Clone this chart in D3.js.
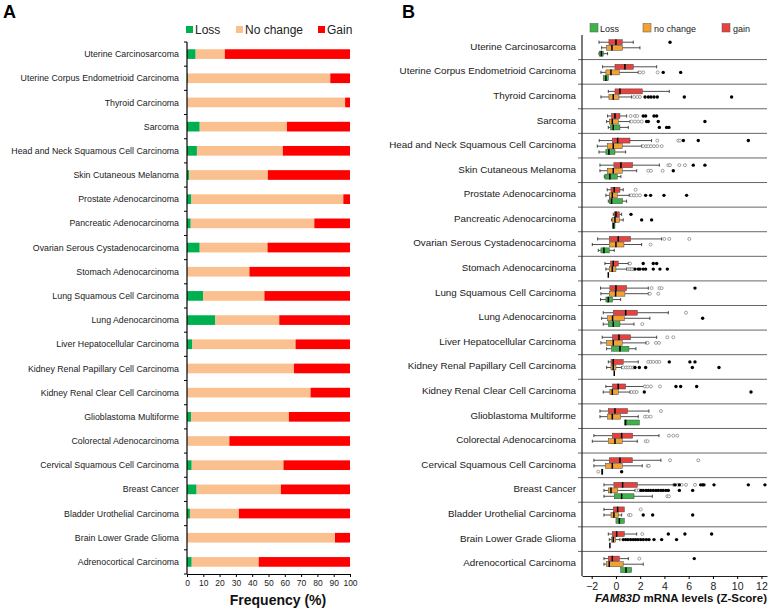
<!DOCTYPE html>
<html><head><meta charset="utf-8">
<script src="https://cdn.jsdelivr.net/npm/d3@7"></script>
<style>body{margin:0;background:#fff}svg{display:block;font-family:"Liberation Sans",Arial,sans-serif}</style>
</head><body><svg id="c" width="774" height="611"></svg>
<script>
const categories = ["Uterine Carcinosarcoma","Uterine Corpus Endometrioid Carcinoma","Thyroid Carcinoma","Sarcoma","Head and Neck Squamous Cell Carcinoma","Skin Cutaneous Melanoma","Prostate Adenocarcinoma","Pancreatic Adenocarcinoma","Ovarian Serous Cystadenocarcinoma","Stomach Adenocarcinoma","Lung Squamous Cell Carcinoma","Lung Adenocarcinoma","Liver Hepatocellular Carcinoma","Kidney Renal Papillary Cell Carcinoma","Kidney Renal Clear Cell Carcinoma","Glioblastoma Multiforme","Colorectal Adenocarcinoma","Cervical Squamous Cell Carcinoma","Breast Cancer","Bladder Urothelial Carcinoma","Brain Lower Grade Glioma","Adrenocortical Carcinoma"];

// Panel A: frequency (%)
const lossPct     = [5.3,0.5,0,7.8,6.1,1.4,2.7,2.3,7.8,0,10,17.4,3.3,0,0,2.5,0,2.9,5.9,1.8,0,2.9];
const noChangePct = [17.9,87.4,97,53.5,52.7,48.2,93.2,75.8,41.6,38.3,37.5,39.2,63.3,65.6,75.8,60,26,56.3,51.7,30,90.8,41.1];
const gainPct     = [76.8,12.1,3,38.7,41.2,50.4,4.1,21.9,50.6,61.7,52.5,43.4,33.4,34.4,24.2,37.5,74,40.8,42.4,68.2,9.2,56];
const freqTicks = [0,10,20,30,40,50,60,70,80,90,100];

// Panel B: box stats [low whisker, q1, median, q3, high whisker]
const gainStats = [[-1.4,-0.58,0,0.52,1.43],[-1.1,-0.08,0.74,1.43,3.36],[-0.63,-0.08,0.33,2.17,4.4],[-0.69,-0.36,-0.08,0.33,0.88],[-1.38,-0.3,0.14,1.16,2.94],[-1.32,-0.17,0.41,1.38,3.58],[-0.72,-0.41,-0.14,0.33,0.6],[-0.22,-0.14,0,0.28,0.47],[-1.51,-0.55,0.19,1.21,3.77],[-0.91,-0.44,-0.22,0.19,1.02],[-1.27,-0.5,0,0.88,2.67],[-1.05,-0.22,0.8,1.76,4.32],[-1.13,-0.28,0.25,1.21,3.36],[-0.63,-0.41,-0.22,0.6,1.84],[-0.83,-0.28,0.19,0.8,2.34],[-1.32,-0.63,-0.08,0.96,2.72],[-1.82,-0.3,0.47,1.38,3.55],[-1.82,-0.55,0.33,1.35,3.71],[-0.99,-0.17,0.55,1.76,4.73],[-0.99,-0.22,0.14,0.69,0.69],[-0.63,-0.3,0.06,0.69,1.71],[-0.99,-0.63,-0.3,0.28,1.02]];
const gainMild = [[],[],[],[1.21,1.57,1.76],[3.41,5.14,5.28],[4.32,4.46,5.23,5.69],[1.62],[],[3.99,4.4,6.05],[1.16],[2.94,3.58,3.77],[5.78],[4.24,4.73],[2.67,2.86,3.08,3.36,3.58],[2.39,2.61,2.89,3.63],[3.71],[4.37,4.73,5.06],[4.46,6.79],[5.09,5.42,5.78,6.52],[2.04],[2.17],[1.93]];
const gainExtreme = [[4.46],[],[],[2.25,2.45,3.14,3.36],[5.56,6.79,10.92],[6.38,7.34],[],[1.24],[],[2.25,3.08,3.36],[6.52],[],[],[4.4,6.1,6.52],[4.95,5.34,6.66],[],[],[],[4.87,5.23,6.99,7.15,7.26,8.09,10.92,12.29],[],[4.32,5.69,7.89],[6.46]];

const noChangeStats = [[-1.18,-0.77,-0.33,0.55,1.98],[-1.24,-0.83,-0.41,0.28,1.84],[-1.24,-0.58,-0.22,0.25,1.29],[-0.77,-0.55,-0.3,0.19,1.16],[-1.54,-0.72,-0.22,0.52,2.12],[-1.32,-0.72,-0.22,0.52,1.71],[-0.83,-0.55,-0.3,0.11,1.1],[-0.36,-0.28,-0.08,0.28,0.6],[-1.95,-0.55,0,0.66,2.12],[-0.83,-0.55,-0.3,0,0.88],[-1.24,-0.55,-0.03,0.74,2.67],[-1.18,-0.69,-0.28,0.69,2.8],[-1.24,-0.77,-0.22,0.52,2.48],[-0.77,-0.41,-0.22,0,0.47],[-1.05,-0.5,-0.3,0.19,1.16],[-1.32,-0.69,-0.3,0.39,1.84],[-1.95,-0.63,-0.08,0.52,1.76],[-1.82,-0.85,-0.3,0.52,2.17],[-0.99,-0.63,-0.41,0.14,1.57],[-0.99,-0.41,-0.17,0.19,0.47],[-0.55,-0.36,-0.22,-0.03,0.33],[-0.99,-0.77,-0.55,0.6,2.25]];
const noChangeMild = [[],[1.98,2.25,3.44],[1.5,1.76,1.98],[1.29,1.57,1.84,2.12],[2.25,2.48,2.67,2.89,3.14,3.41,3.77],[2.67,2.89,3.85],[1.29,1.49,1.71,1.98],[],[2.86],[1.02,1.16,1.29,1.43],[2.8,3.49],[],[2.61,3.3,3.55],[0.6,0.83,1.02,1.21,1.43],[1.29,1.51,1.71],[2.39,2.59,2.86],[2.45,2.61],[2.61,2.72],[1.71,1.9],[1.07,1.21],[],[]];
const noChangeExtreme = [[],[3.9,5.34],[2.4,2.67,2.89,3.14,3.41,5.64,9.54],[2.53,2.67,3.49,7.34],[],[4.73],[2.45,2.86,3.96,5.83],[2.12,2.94],[],[1.57,1.84,1.98,2.25,2.45,3.08,3.63,4.24],[],[7.15],[],[1.57,1.93,2.45,6.3,8.5],[2.34,11.14],[],[],[],[2.06,2.25,2.48,2.67,2.86,3.08,3.3,3.49,3.71,3.9,4.13,4.32,5.23,6.33],[2.25,3.03,6.33],[0.6,0.8,0.99,1.21,1.43,1.62,1.82,2.04,2.26,2.51,2.73,3.14,3.77,5.0],[]];

const lossStats = [[-1.4,-1.37,-1.2,-1.05,-0.69],[-1.05,-1.05,-0.83,-0.63,-0.63],null,[-0.63,-0.44,-0.22,0.33,1.02],[-1.4,-0.83,-0.58,-0.08,0.8],[-0.96,-0.91,-0.5,0.11,0.41],[-0.63,-0.55,-0.36,0.55,0.88],[-0.3,-0.3,-0.2,-0.08,-0.08],[-1.46,-1.24,-0.99,-0.55,-0.14],[-0.63,-0.63,-0.63,-0.63,-0.63],[-1.27,-0.83,-0.63,-0.28,0.39],[-1.05,-0.63,-0.22,0.33,1.49],[-0.77,-0.36,0.33,1.07,1.65],[-0.14,-0.14,-0.14,-0.14,-0.14],null,[0.69,0.69,0.8,1.93,1.93],null,[-1.18,-1.18,-1.13,-1.08,-1.08],[-0.99,-0.14,0.47,1.49,3.0],[0,0,0.28,0.69,0.69],[-0.5,-0.5,-0.5,-0.5,-0.5],[0.39,0.39,0.83,1.29,1.29]];
const lossMild = [[],[],[],[],[],[],[],[],[],[],[],[2.17],[],[],[],[],[],[-1.46],[4.24,4.37],[],[],[]];
const lossExtreme = [[],[],[],[3.58,4.18,4.37],[],[],[],[],[],[],[],[],[],[],[],[],[],[0.47],[],[],[],[]];
const zTicks = [-2,0,2,4,6,8,10,12];

const svg = d3.select("#c");

// ---------- Panel A ----------
const colA = {loss:"#00B050", nc:"#FAC08F", gain:"#FF0000"};
const xA = d3.scaleLinear().domain([0,100]).range([187,350]);
const yA = d3.scaleBand().domain(categories).range([42,574]).paddingInner(0.6).paddingOuter(0.3);
const tableA = categories.map((c,i)=>({cat:c, loss:lossPct[i], nc:noChangePct[i], gain:gainPct[i]}));
const stackA = d3.stack().keys(["loss","nc","gain"])(tableA);
const gA = svg.append("g");
gA.selectAll("g.s").data(stackA).join("g").attr("fill",d=>colA[d.key])
  .selectAll("rect").data(d=>d).join("rect")
  .attr("x",d=>xA(d[0])).attr("width",d=>Math.max(0,xA(d[1])-xA(d[0])))
  .attr("y",d=>yA(d.data.cat)).attr("height",yA.bandwidth());
gA.selectAll("text.cat").data(categories).join("text")
  .attr("x",179).attr("y",d=>yA(d)+yA.bandwidth()/2).attr("dy","0.35em")
  .attr("text-anchor","end").attr("font-size","8.8px").attr("fill","#1a1a1a").text(d=>d);
const stepA = yA.step();
gA.append("line").attr("x1",187).attr("x2",187).attr("y1",42).attr("y2",574).attr("stroke","#000").attr("stroke-width",1.2);
gA.selectAll("line.tk").data(d3.range(categories.length+1)).join("line")
  .attr("x1",184).attr("x2",187).attr("y1",i=>42+i*stepA).attr("y2",i=>42+i*stepA).attr("stroke","#000");
const axA = gA.append("g").attr("transform","translate(0,574)")
  .call(d3.axisBottom(xA).tickValues(freqTicks).tickSize(3).tickSizeOuter(0).tickPadding(3));
axA.select(".domain").attr("stroke","#000").attr("stroke-width",1.2);
axA.selectAll("text").attr("font-size","8.5px").attr("fill","#222").attr("font-family","Liberation Sans, Arial, sans-serif");
gA.append("text").attr("x",278).attr("y",605).attr("text-anchor","middle").attr("font-weight","bold").attr("font-size","14px").attr("fill","#111").text("Frequency (%)");
gA.append("text").attr("x",3).attr("y",18).attr("font-weight","bold").attr("font-size","18px").text("A");
const legA = [["Loss",colA.loss,186,195],["No change",colA.nc,236,245],["Gain",colA.gain,318,327]];
legA.forEach(([t,c,sx,tx])=>{
  gA.append("rect").attr("x",sx).attr("y",26).attr("width",7).attr("height",7).attr("fill",c);
  gA.append("text").attr("x",tx).attr("y",34).attr("font-size","12px").attr("fill","#222").text(t);
});

// ---------- Panel B ----------
const colB = {gain:"#E8423F", nc:"#F2A233", loss:"#3CB44A"};
const xB = d3.scaleLinear().domain([-2.8,12.46]).range([582,767]);
const yB = d3.scaleBand().domain(categories).range([35,576]);
const stepB = yB.step();
const gB = svg.append("g");
gB.selectAll("line.sep").data(d3.range(1,categories.length)).join("line")
  .attr("x1",578).attr("x2",767).attr("y1",i=>35+i*stepB).attr("y2",i=>35+i*stepB)
  .attr("stroke","#555").attr("stroke-width",0.9);
gB.selectAll("text.cat").data(categories).join("text")
  .attr("x",576).attr("y",d=>yB(d)+stepB*0.46).attr("dy","0.35em")
  .attr("text-anchor","end").attr("font-size","9.8px").attr("fill","#1a1a1a").text(d=>d);
const series = [
  {key:"gain", stats:gainStats, mild:gainMild, ext:gainExtreme, off:0.293},
  {key:"nc", stats:noChangeStats, mild:noChangeMild, ext:noChangeExtreme, off:0.52},
  {key:"loss", stats:lossStats, mild:lossMild, ext:lossExtreme, off:0.758}
];
const bh = 5;
series.forEach(s=>{
  categories.forEach((c,i)=>{
    const cy = yB(c) + stepB*s.off;
    const st = s.stats[i];
    const g = gB.append("g");
    if (st) {
      const [lo,q1,md,q3,hi] = st;
      g.append("line").attr("x1",xB(lo)).attr("x2",xB(q1)).attr("y1",cy).attr("y2",cy).attr("stroke","#222").attr("stroke-width",0.8);
      g.append("line").attr("x1",xB(q3)).attr("x2",xB(hi)).attr("y1",cy).attr("y2",cy).attr("stroke","#222").attr("stroke-width",0.8);
      [lo,hi].forEach(v=>{ if (v!==q1 && v!==q3) g.append("line").attr("x1",xB(v)).attr("x2",xB(v)).attr("y1",cy-1.6).attr("y2",cy+1.6).attr("stroke","#222").attr("stroke-width",0.8); });
      g.append("rect").attr("x",xB(q1)).attr("width",Math.max(0,xB(q3)-xB(q1))).attr("y",cy-bh/2).attr("height",bh)
        .attr("fill",colB[s.key]).attr("stroke","#444").attr("stroke-width",0.5);
      g.append("line").attr("x1",xB(md)).attr("x2",xB(md)).attr("y1",cy-bh/2-0.3).attr("y2",cy+bh/2+0.3).attr("stroke","#000").attr("stroke-width",1.5);
    }
    s.mild[i].forEach(v=>g.append("circle").attr("cx",xB(v)).attr("cy",cy).attr("r",1.5).attr("fill","#fff").attr("stroke","#666").attr("stroke-width",0.6));
    s.ext[i].forEach(v=>g.append("circle").attr("cx",xB(v)).attr("cy",cy).attr("r",1.7).attr("fill","#000"));
  });
});
gB.append("line").attr("x1",582).attr("x2",582).attr("y1",35).attr("y2",576).attr("stroke","#222").attr("stroke-width",1.2);
const axB = gB.append("g").attr("transform","translate(0,576)")
  .call(d3.axisBottom(xB).tickValues(zTicks).tickFormat(d3.format("d")).tickSize(3).tickSizeOuter(0).tickPadding(4));
axB.select(".domain").attr("stroke","#222").attr("stroke-width",1.2);
axB.selectAll("text").attr("font-size","10.5px").attr("fill","#222").attr("font-family","Liberation Sans, Arial, sans-serif");
const tB = gB.append("text").attr("x",681).attr("y",602).attr("text-anchor","middle").attr("font-weight","bold").attr("font-size","11.5px").attr("fill","#111");
tB.append("tspan").attr("font-style","italic").text("FAM83D");
tB.append("tspan").text(" mRNA levels (Z-Score)");
gB.append("text").attr("x",402).attr("y",18).attr("font-weight","bold").attr("font-size","18px").text("B");
const legB = [["Loss",colB.loss,590,600],["no change",colB.nc,643,654],["gain",colB.gain,722,733]];
legB.forEach(([t,c,sx,tx])=>{
  gB.append("rect").attr("x",sx).attr("y",23.5).attr("width",8).attr("height",8.5).attr("fill",c).attr("stroke","#555").attr("stroke-width",0.5);
  gB.append("text").attr("x",tx).attr("y",31.5).attr("font-size","9px").attr("fill","#222").text(t);
});
</script></body></html>
